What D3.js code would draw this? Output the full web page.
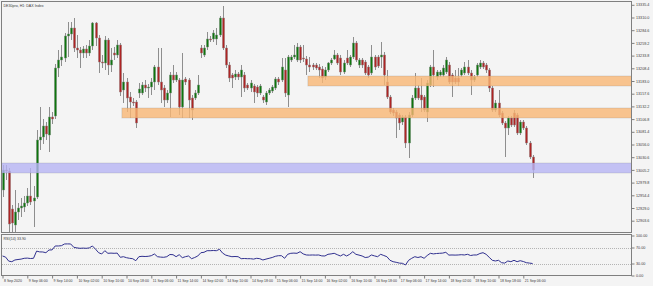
<!DOCTYPE html>
<html>
<head>
<meta charset="utf-8">
<script src="https://cdn.jsdelivr.net/npm/d3@7"></script>
<style>
  body { margin: 0; background: #f4f4f4; }
  svg { display: block; }
  text { font-family: "Liberation Sans", Arial, sans-serif; fill: #3a3a3a; }
</style>
</head>
<body>
<svg id="chart" width="653" height="286"></svg>
<script>
// H1 candles, 8 Sep 2020 -> 21 Sep 2020
const open = [
  12965,13005,13003,12927,12895,12921,12929,12931,12939,12953,
  12943,12951,13065,13071,13093,13075,13111,13113,13209,13225,
  13229,13273,13277,13289,13249,13245,13239,13247,13239,13253,
  13299,13269,13221,13219,13265,13215,13239,13235,13255,13165,
  13181,13151,13141,13141,13159,13159,13175,13169,13171,13181,
  13211,13181,13169,13145,13159,13195,13185,13185,13131,13187,
  13185,13149,13149,13159,13249,13235,13251,13267,13267,13267,
  13275,13309,13249,13215,13195,13191,13197,13191,13195,13175,
  13169,13173,13171,13159,13151,13141,13159,13163,13169,13187,
  13185,13205,13155,13225,13231,13225,13251,13229,13227,13215,
  13215,13215,13211,13207,13191,13205,13219,13227,13235,13229,
  13201,13229,13215,13231,13259,13215,13225,13221,13211,13199,
  13231,13231,13231,13235,13181,13151,13125,13121,13115,13101,
  13111,13059,13115,13149,13169,13155,13151,13121,13175,13211,
  13191,13195,13195,13201,13215,13195,13189,13189,13195,13199,
  13211,13199,13185,13195,13211,13219,13215,13205,13169,13125,
  13139,13119,13099,13089,13109,13119,13115,13079,13101,13089,
  13059,13031]
const high = [
  13015,13015,13009,12935,12965,12939,12949,12953,12969,13009,
  12973,13085,13131,13107,13101,13131,13121,13217,13245,13255,
  13279,13301,13301,13309,13275,13251,13253,13255,13265,13301,
  13301,13275,13235,13273,13269,13249,13251,13265,13259,13199,
  13189,13161,13149,13145,13179,13181,13185,13177,13189,13215,
  13249,13249,13175,13165,13201,13215,13201,13189,13239,13191,
  13189,13155,13165,13195,13255,13255,13281,13273,13285,13289,
  13313,13333,13255,13221,13199,13205,13201,13215,13201,13179,
  13185,13177,13175,13177,13155,13163,13169,13175,13191,13191,
  13229,13229,13235,13235,13255,13259,13255,13255,13233,13231,
  13219,13219,13217,13213,13211,13221,13229,13245,13239,13235,
  13225,13245,13235,13271,13263,13229,13229,13225,13215,13255,
  13235,13235,13261,13241,13205,13155,13129,13125,13119,13115,
  13115,13121,13155,13199,13175,13189,13155,13185,13215,13245,
  13205,13205,13215,13231,13221,13199,13205,13209,13209,13221,
  13225,13205,13195,13219,13225,13223,13219,13209,13173,13145,
  13165,13123,13103,13113,13113,13125,13119,13105,13105,13093,
  13063,13035]
const low = [
  12951,12985,12881,12879,12879,12905,12911,12921,12933,12935,
  12891,12947,13045,13057,13065,13041,13097,13107,13191,13213,
  13221,13231,13265,13241,13229,13209,13229,13229,13233,13245,
  13253,13199,13209,13205,13195,13201,13225,13229,13153,13139,
  13121,13109,13133,13089,13149,13155,13161,13149,13155,13165,
  13175,13139,13131,13139,13111,13179,13181,13115,13109,13175,
  13109,13105,13145,13155,13229,13231,13245,13261,13261,13255,
  13271,13245,13209,13181,13169,13185,13185,13151,13161,13165,
  13161,13139,13151,13155,13139,13135,13155,13159,13165,13175,
  13181,13151,13131,13221,13227,13221,13219,13221,13195,13201,
  13205,13205,13189,13179,13185,13201,13215,13225,13215,13195,
  13197,13215,13211,13227,13221,13209,13209,13195,13189,13195,
  13205,13209,13209,13175,13147,13117,13113,13069,13085,13095,
  13049,13029,13111,13145,13145,13121,13121,13101,13171,13171,
  13185,13191,13191,13197,13177,13151,13177,13173,13191,13195,
  13195,13155,13181,13191,13207,13207,13199,13161,13121,13121,
  13111,13095,13031,13075,13091,13091,13075,13075,13085,13055,
  13027,12989]
const close = [
  13005,13003,12897,12899,12921,12929,12933,12939,12953,12941,
  12949,13065,13071,13093,13077,13111,13107,13209,13225,13231,
  13273,13277,13289,13249,13245,13239,13247,13239,13253,13299,
  13269,13221,13219,13265,13215,13225,13235,13255,13161,13181,
  13149,13141,13139,13099,13167,13175,13169,13171,13181,13211,
  13181,13165,13145,13159,13195,13185,13195,13131,13185,13181,
  13145,13125,13159,13175,13239,13249,13267,13265,13279,13275,
  13309,13249,13215,13189,13189,13197,13191,13205,13169,13169,
  13179,13161,13159,13173,13145,13159,13165,13171,13187,13181,
  13211,13159,13231,13231,13235,13251,13225,13227,13215,13211,
  13211,13209,13205,13189,13205,13219,13225,13235,13219,13201,
  13219,13219,13231,13259,13225,13225,13215,13199,13195,13231,
  13211,13213,13235,13195,13151,13121,13119,13109,13099,13111,
  13059,13115,13149,13169,13149,13145,13125,13179,13211,13195,
  13201,13201,13209,13225,13181,13181,13181,13181,13205,13211,
  13199,13185,13191,13215,13219,13211,13205,13169,13125,13139,
  13115,13099,13089,13109,13095,13095,13079,13101,13089,13059,
  13031,13005]

// RSI(14) per bar
const rsi = [
  48.8,46,36,34.5,38.8,40,41,43,43.5,42.5,
  43,61,59,58.8,57,63.8,64,73.8,73.8,74.5,
  78.8,79,78.8,70.5,69,68,68.5,68,69,73.8,
  66,57,53.8,62,55.5,56,55.5,56,45.5,47,
  44.5,43,42,37,47,48,47.5,48,49.5,53.8,
  47,46,45.5,47,52.5,52,47,52,44.5,47,
  48.8,42,45,48.8,57,58,62,62,62.5,62,
  65.5,56,51,48.8,47,47.5,47,42,42.5,42,
  42,41,43,42,38.8,41,43,45,48,49.5,
  49.5,43,53,55.5,56,55.5,59.5,54,51.3,51,
  51.3,51,51.3,49,48.8,53,54,55.5,52,48.8,
  53,48.8,53,59.5,53,51,48.8,45,46,51.3,
  49,47,53,50,47,38,34.5,33,31,30.5,
  26.3,38,43,47,45,47,43,50,55.5,54,
  55,55.5,56,58,51,51.3,51,51.3,52,51.3,
  53,50,51.3,51.3,55,57,53,45.5,38,36.3,
  38,32,31,36.3,34.5,38,34.5,37,35,32,
  31,30]

// x axis labels, one every 8 bars
const timeLabels = ["8 Sep 2020","9 Sep 06:00","9 Sep 14:00","10 Sep 02:00","10 Sep 10:00",
  "10 Sep 18:00","11 Sep 06:00","11 Sep 14:00","14 Sep 02:00","14 Sep 10:00","14 Sep 18:00",
  "15 Sep 06:00","15 Sep 14:00","16 Sep 02:00","16 Sep 10:00","16 Sep 18:00","17 Sep 06:00",
  "17 Sep 14:00","18 Sep 02:00","18 Sep 10:00","18 Sep 18:00","21 Sep 06:00"]
const priceTicks = [12903.6,12929.0,12954.4,12979.8,13005.2,13030.6,13056.0,13081.4,13106.8,
  13132.2,13157.6,13183.0,13208.4,13233.8,13259.2,13284.6,13310.0,13335.4]
const rsiTicks = [0, 30, 70, 100]
const rsiLevels = [30, 70]

// supply / demand zones
const zoneStart = [99, 39, 0]
const zoneTop = [13193, 13129, 13019]
const zoneBottom = [13173, 13109, 12999]
const zoneColor = ["#f9b774", "#f9b774", "#b7b4f4"]

const width = 653, height = 286
const plotRight = 631.5

const svg = d3.select("#chart")
svg.append("rect").attr("width", width).attr("height", height).attr("fill", "#f4f4f4")

const x = d3.scaleLinear().domain([0, close.length - 1]).range([2.5, 532.6])
const y = d3.scaleLinear().domain([12881, 13341]).range([232, 2])
const yRsi = d3.scaleLinear().domain([0, 100]).range([275.5, 235.5])

svg.append("clipPath").attr("id", "mainClip")
   .append("rect").attr("x", 1.5).attr("y", 1.5).attr("width", plotRight - 1.5).attr("height", 231)

const main = svg.append("g").attr("clip-path", "url(#mainClip)")
const idx = d3.range(close.length)

// wicks
main.append("g").selectAll("line").data(idx).join("line")
    .attr("x1", i => Math.round(x(i)) + 0.5).attr("x2", i => Math.round(x(i)) + 0.5)
    .attr("y1", i => y(high[i])).attr("y2", i => y(low[i]))
    .attr("stroke", "#8e8e8e").attr("stroke-width", 1)

// bodies
main.append("g").selectAll("rect").data(idx).join("rect")
    .attr("x", i => Math.round(x(i)) - 0.6)
    .attr("y", i => y(Math.max(open[i], close[i])))
    .attr("width", 2.2)
    .attr("height", i => Math.max(1, Math.abs(y(open[i]) - y(close[i]))))
    .attr("fill", i => close[i] >= open[i] ? "#0d760d" : "#ae2424")
    .attr("stroke", "rgba(140,140,140,0.55)").attr("stroke-width", 0.7)

// zones drawn over candles, semi transparent
main.append("g").selectAll("rect").data(zoneStart).join("rect")
    .attr("x", (d) => x(d) - 1.5)
    .attr("y", (d, i) => y(zoneTop[i]))
    .attr("width", d => plotRight - x(d) + 1.5)
    .attr("height", (d, i) => y(zoneBottom[i]) - y(zoneTop[i]))
    .attr("fill", (d, i) => zoneColor[i]).attr("fill-opacity", 0.8)
    .attr("stroke", "rgba(120,120,120,0.25)").attr("stroke-width", 0.8)

// frames
svg.append("rect").attr("x", 1.5).attr("y", 1.5).attr("width", plotRight - 1.5).attr("height", 231)
   .attr("fill", "none").attr("stroke", "#7f7f7f")
svg.append("rect").attr("x", 1.5).attr("y", 234.5).attr("width", plotRight - 1.5).attr("height", 41)
   .attr("fill", "none").attr("stroke", "#7f7f7f")

// price axis
const yAxis = d3.axisRight(y).tickValues(priceTicks).tickSize(3).tickPadding(1.5)
                .tickFormat(d3.format(".1f"))
svg.append("g").attr("transform", `translate(${plotRight}, 0)`).call(yAxis)
   .call(g => g.select(".domain").remove())
   .call(g => g.selectAll("line").attr("stroke", "#7f7f7f"))
   .call(g => g.selectAll("text").style("font-size", "3.7px").attr("fill", "#3a3a3a"))

// RSI panel
svg.append("g").selectAll("line").data(rsiLevels).join("line")
   .attr("x1", 2).attr("x2", plotRight)
   .attr("y1", d => Math.round(yRsi(d)) + 0.5).attr("y2", d => Math.round(yRsi(d)) + 0.5)
   .attr("stroke", "#b4b4b4").attr("stroke-dasharray", "1,1")

svg.append("path").datum(idx)
   .attr("d", d3.line().x(i => x(i)).y(i => yRsi(rsi[i])))
   .attr("fill", "none").attr("stroke", "#30308f").attr("stroke-width", 1)

const rAxis = d3.axisRight(yRsi).tickValues(rsiTicks).tickSize(3).tickPadding(1.5)
                .tickFormat(d3.format(".2f"))
svg.append("g").attr("transform", `translate(${plotRight}, 0)`).call(rAxis)
   .call(g => g.select(".domain").remove())
   .call(g => g.selectAll("line").attr("stroke", "#7f7f7f"))
   .call(g => g.selectAll("text").style("font-size", "3.7px").attr("fill", "#3a3a3a"))

// time axis
const labelBars = timeLabels.map((d, i) => i * 8)
const xAxis = d3.axisBottom(x).tickValues(labelBars).tickSize(3).tickPadding(1)
                .tickFormat((d, i) => timeLabels[i])
svg.append("g").attr("transform", "translate(0, 275.5)").call(xAxis)
   .call(g => g.select(".domain").remove())
   .call(g => g.selectAll("line").attr("stroke", "#7f7f7f"))
   .call(g => g.selectAll("text").attr("text-anchor", "start").attr("x", 1)
               .style("font-size", "3.5px").attr("fill", "#3a3a3a"))

// titles
svg.append("text").attr("x", 3.5).attr("y", 6.5).style("font-size", "3.6px")
   .text("DE30pro, H1: DAX Index")
svg.append("text").attr("x", 3.5).attr("y", 239.5).style("font-size", "3.6px")
   .text("RSI(14) 33.90")
</script>
</body>
</html>
